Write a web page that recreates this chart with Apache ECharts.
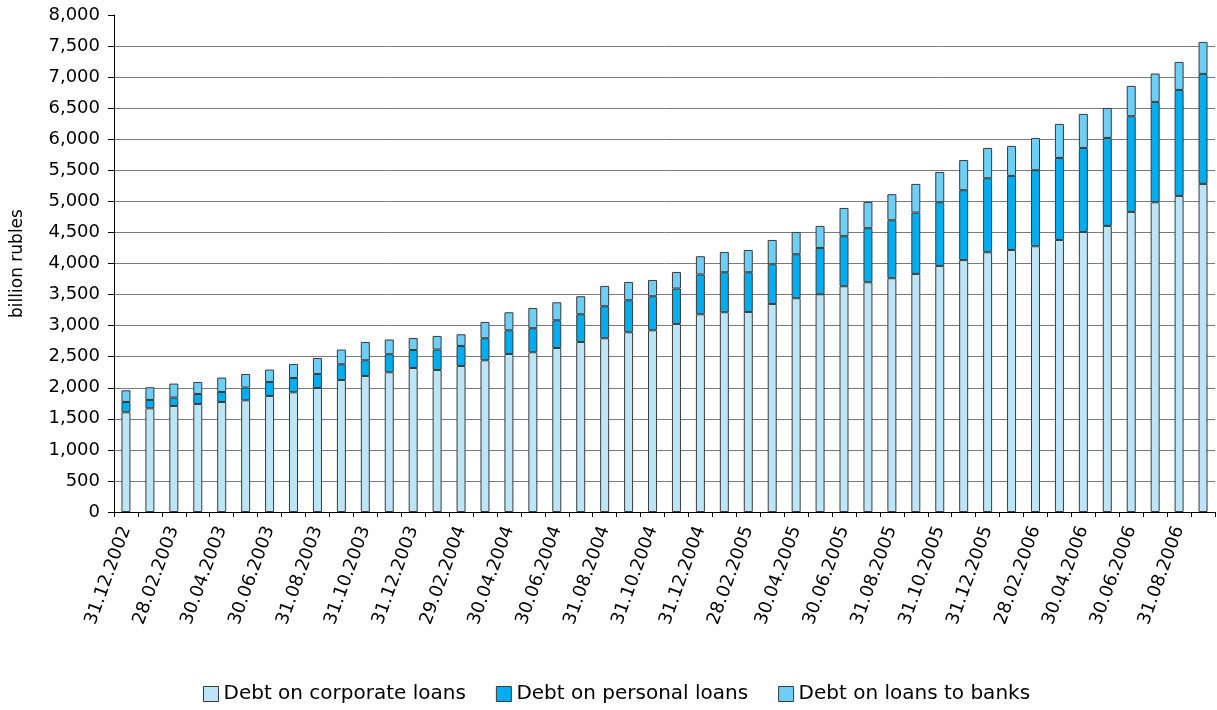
<!DOCTYPE html>
<html>
<head>
<meta charset="utf-8">
<script src="https://cdn.jsdelivr.net/npm/echarts@6/dist/echarts.min.js"></script>
<style>
  html, body { margin: 0; padding: 0; background: #ffffff; }
  #chart { width: 1217px; height: 710px; }
</style>
</head>
<body>
<div id="chart"></div>
<script>
// Month-end reporting dates
const dates = [
  '31.12.2002', '31.01.2003', '28.02.2003', '31.03.2003', '30.04.2003', '31.05.2003',
  '30.06.2003', '31.07.2003', '31.08.2003', '30.09.2003', '31.10.2003', '30.11.2003',
  '31.12.2003', '31.01.2004', '29.02.2004', '31.03.2004', '30.04.2004', '31.05.2004',
  '30.06.2004', '31.07.2004', '31.08.2004', '30.09.2004', '31.10.2004', '30.11.2004',
  '31.12.2004', '31.01.2005', '28.02.2005', '31.03.2005', '30.04.2005', '31.05.2005',
  '30.06.2005', '31.07.2005', '31.08.2005', '30.09.2005', '31.10.2005', '30.11.2005',
  '31.12.2005', '31.01.2006', '28.02.2006', '31.03.2006', '30.04.2006', '31.05.2006',
  '30.06.2006', '31.07.2006', '31.08.2006', '30.09.2006'
];

// Debt on corporate loans, billion rubles
const corporateLoans = [
  1605, 1669, 1707, 1739, 1771, 1798, 1868, 1927, 1996, 2125, 2190, 2249,
  2318, 2286, 2351, 2442, 2544, 2571, 2640, 2737, 2797, 2893, 2925, 3027,
  3183, 3215, 3220, 3349, 3441, 3505, 3634, 3698, 3763, 3832, 3961, 4055,
  4181, 4218, 4278, 4379, 4508, 4605, 4830, 4986, 5088, 5281
];

// Debt on personal loans, billion rubles
const personalLoans = [
  166, 134, 135, 161, 161, 205, 225, 230, 226, 253, 252, 290,
  290, 329, 322, 355, 381, 387, 446, 446, 515, 515, 548, 570,
  639, 644, 639, 639, 708, 745, 805, 870, 933, 988, 1025, 1125,
  1191, 1192, 1223, 1320, 1352, 1416, 1541, 1615, 1706, 1771
];

// Debt on loans to banks, billion rubles
const bankLoans = [
  188, 205, 225, 193, 232, 219, 200, 226, 257, 237, 295, 237,
  193, 219, 188, 262, 290, 326, 290, 290, 327, 295, 262, 267,
  295, 327, 359, 391, 359, 355, 455, 423, 419, 461, 488, 485,
  488, 483, 520, 548, 548, 483, 488, 457, 451, 515
];

const seriesNames = ['Debt on corporate loans', 'Debt on personal loans', 'Debt on loans to banks'];
const seriesColors = ['#bde5f8', '#00aeef', '#6dcff6'];

const FONT = 'DejaVu Sans';
const BORDER = '#3a3a3a';

// Gridlines every 500; the one at the top of the scale is left out
const gridColors = [];
for (let i = 0; i <= 16; i++) gridColors.push(i === 16 ? 'rgba(0,0,0,0)' : '#7a7a7a');

const chart = echarts.init(document.getElementById('chart'), null, { renderer: 'canvas' });

const makeSeries = (name, data, color) => ({
  name: name,
  type: 'bar',
  stack: 'total',
  barWidth: 9,
  data: data,
  itemStyle: { color: color, borderColor: BORDER, borderWidth: 1 },
  emphasis: { disabled: true }
});

chart.setOption({
  animation: false,
  backgroundColor: '#ffffff',
  grid: { left: 114, right: 2, top: 15, bottom: 198, containLabel: false },
  legend: {
    data: seriesNames,
    left: 203,
    top: 684,
    padding: 0,
    icon: 'rect',
    itemWidth: 15,
    itemHeight: 15,
    itemGap: 30,
    itemStyle: { borderColor: BORDER, borderWidth: 1 },
    textStyle: { fontFamily: FONT, fontSize: 20, color: '#000' }
  },
  xAxis: {
    type: 'category',
    data: dates,
    boundaryGap: true,
    axisLine: { show: true, lineStyle: { color: '#000', width: 1 } },
    axisTick: { show: true, interval: 0, length: 5, lineStyle: { color: '#000' } },
    axisLabel: {
      interval: 1,
      rotate: 70,
      margin: 15,
      fontFamily: FONT,
      fontSize: 18,
      color: '#000'
    },
    splitLine: { show: false }
  },
  yAxis: {
    type: 'value',
    min: 0,
    max: 8000,
    interval: 500,
    name: 'billion rubles',
    nameLocation: 'middle',
    nameGap: 88,
    nameTextStyle: { fontFamily: FONT, fontSize: 17, color: '#000' },
    axisLine: { show: true, lineStyle: { color: '#000', width: 1 } },
    axisTick: { show: true, length: 6, lineStyle: { color: '#000' } },
    axisLabel: {
      margin: 14,
      fontFamily: FONT,
      fontSize: 18,
      color: '#000',
      formatter: v => v.toString().replace(/\B(?=(\d{3})+(?!\d))/g, ',')
    },
    splitLine: { show: true, lineStyle: { color: gridColors, width: 1 } }
  },
  series: [
    makeSeries(seriesNames[0], corporateLoans, seriesColors[0]),
    makeSeries(seriesNames[1], personalLoans, seriesColors[1]),
    makeSeries(seriesNames[2], bankLoans, seriesColors[2])
  ]
});
</script>
</body>
</html>
